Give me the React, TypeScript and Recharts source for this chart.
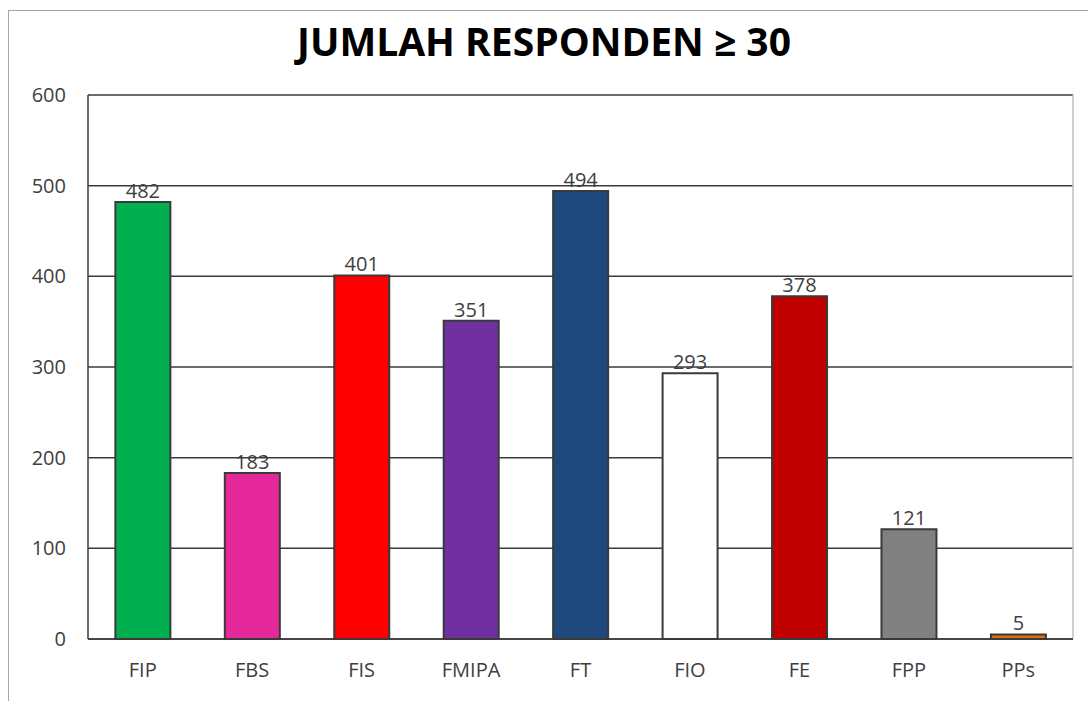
import { BarChart, Bar, XAxis, YAxis, CartesianGrid, LabelList, Cell } from 'recharts'

const faculties = ['FIP', 'FBS', 'FIS', 'FMIPA', 'FT', 'FIO', 'FE', 'FPP', 'PPs']
const respondents = [482, 183, 401, 351, 494, 293, 378, 121, 5]
const barColors = ['#00b050', '#e6299a', '#ff0000', '#7030a0', '#1f497d', '#ffffff', '#c00000', '#808080', '#e36c09']
const yTicks = [0, 100, 200, 300, 400, 500, 600]

const data = faculties.map((name, i) => ({ name, value: respondents[i] }))

const font = '"Open Sans", "Liberation Sans", sans-serif'

export default function App() {
  return (
    <div style={{ position: 'absolute', left: 0, top: 0, width: 1088, height: 702, background: '#fff', fontFamily: font }}>
      {/* outer chart frame, only left and top edges visible in the crop */}
      <div style={{ position: 'absolute', left: 8, top: 10, width: 1080, height: 690, borderLeft: '1px solid #a6a6a6', borderTop: '1px solid #a6a6a6' }} />
      <div
        style={{
          position: 'absolute',
          left: 0,
          top: 13,
          width: 1088,
          textAlign: 'center',
          fontSize: 39,
          lineHeight: '56px',
          fontWeight: 700,
          color: '#000',
        }}
      >
        JUMLAH RESPONDEN ≥ 30
      </div>
      <BarChart width={1088} height={702} data={data} margin={{ top: 95, right: 15, bottom: 0, left: 8 }} barCategoryGap="25%">
        <CartesianGrid vertical={false} stroke="#3a3a3a" strokeWidth={1.5} />
        <CartesianGrid
          horizontal={false}
          stroke="#bfbfbf"
          strokeWidth={1.5}
          verticalCoordinatesGenerator={({ offset }: any) => [offset.left + offset.width]}
        />
        <XAxis
          dataKey="name"
          height={63}
          tickLine={false}
          axisLine={{ stroke: '#3a3a3a', strokeWidth: 1.5 }}
          tick={{ fill: '#404040', fontSize: 20, fontFamily: font }}
          tickMargin={18}
        />
        <YAxis
          width={80}
          domain={[0, 600]}
          ticks={yTicks}
          tickLine={false}
          axisLine={{ stroke: '#3a3a3a', strokeWidth: 1.5 }}
          tick={{ fill: '#404040', fontSize: 20, fontFamily: font }}
          tickMargin={16}
        />
        <Bar dataKey="value" stroke="#3a3a3a" strokeWidth={2} isAnimationActive={false}>
          {data.map((d, i) => (
            <Cell key={d.name} fill={barColors[i]} />
          ))}
          <LabelList dataKey="value" position="top" offset={4} fill="#404040" fontSize={20} fontFamily={font} />
        </Bar>
      </BarChart>
    </div>
  )
}
